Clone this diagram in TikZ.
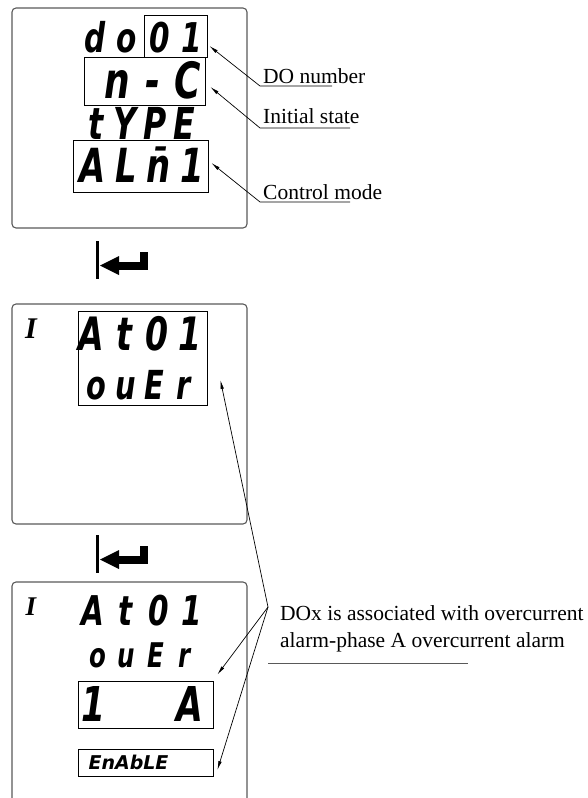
\documentclass[tikz,border=0pt]{standalone}
\usepackage{fontspec}
\setmainfont{Liberation Serif}
\newfontfamily\segfont{DejaVu Sans}
\usetikzlibrary{arrows.meta}

% one character cell of the display
\newcommand\cell[2][32pt]{\makebox[#1]{\scalebox{0.72}[1]{#2}}}

\tikzset{
  panel/.style={draw=black!65, line width=1.1pt, rounded corners=4pt},
  lcdbox/.style={draw, line width=0.8pt, inner sep=0pt},
  segtext/.style={font=\segfont\bfseries\itshape\fontsize{#1}{#1}\selectfont, inner sep=0pt, anchor=base},
  unitmark/.style={font=\bfseries\itshape\fontsize{#1}{#1}\selectfont, inner sep=0pt, anchor=base},
  lbl/.style={font=\fontsize{21.5}{27}\selectfont, inner sep=0pt, anchor=base west},
  leader/.style={{Latex[length=9pt,width=3.5pt]}-, line width=0.7pt},
  rule/.style={draw=black!65, line width=0.9pt},
}

\begin{document}
\begin{tikzpicture}[x=1pt,y=-1pt]
    \useasboundingbox (0,0) rectangle (587,798);

    % first screen
    \draw[panel] (12,8) rectangle (247,228);
    \node[segtext=41] (dotxt) at (111,52) {\cell{d}\cell{o}};
    \node[lcdbox, minimum width=63pt, minimum height=42pt] (nobox) at (175.5,36) {};
    \node[segtext=41] (notxt) at (176,52) {\cell{0}\cell{1}};
    \node[lcdbox, minimum width=121pt, minimum height=48pt] (statebox) at (144.5,81) {};
    \node[segtext=50] (statetxt) at (152.5,98) {\cell[35.5pt]{n}\cell[35.5pt]{-}\cell[35.5pt]{C}};
    \node[segtext=44] (typetxt) at (140,139) {\cell[29.5pt]{t}\cell[29.5pt]{Y}\cell[29.5pt]{P}\cell[29.5pt]{E}};
    \node[lcdbox, minimum width=135pt, minimum height=52pt] (modebox) at (140.5,166) {};
    \node[segtext=47] (modetxt) at (142.5,182) {\cell[33pt]{A}\cell[33pt]{L}\cell[33pt]{n̄}\cell[33pt]{1}};

    % labels of the first screen
    \node[lbl] (nolbl) at (263,83) {DO number};
    \node[lbl] (statelbl) at (263,123) {Initial state};
    \node[lbl] (modelbl) at (263,199) {Control mode};
    \draw[leader] ([shift={(2,10)}]nobox.east) -- ([shift={(-3,3)}]nolbl.base west) -- +(72,0);
    \draw[leader] ([shift={(5,6)}]statebox.east) -- ([shift={(-3,5)}]statelbl.base west) -- +(90,0);
    \draw[leader] ([shift={(3,-3)}]modebox.east) -- ([shift={(-3,3)}]modelbl.base west) -- +(90,0);

    % enter keys
    \foreach \dy in {0,294} {
        \draw[line width=3pt] (97.5,241+\dy) -- (97.5,279+\dy);
        \draw[line width=8pt] (144,252+\dy) -- (144,266+\dy) -- (117,266+\dy);
        \fill (100,265.5+\dy) -- (119,256+\dy) -- (119,275+\dy) -- cycle;
    }

    % second screen
    \draw[panel] (12,304) rectangle (247,524);
    \node[unitmark=30] (unit2) at (31,338) {I};
    \node[lcdbox, minimum width=129pt, minimum height=94pt] (atbox) at (142.5,358) {};
    \node[segtext=46] (attxt2) at (141,350) {\cell[33pt]{A}\cell[33pt]{t}\cell[33pt]{0}\cell[33pt]{1}};
    \node[segtext=40] (ovtxt2) at (140,399) {\cell[29pt]{o}\cell[29pt]{u}\cell[29pt]{E}\cell[29pt]{r}};

    % third screen
    \draw[panel] (12,810) |- (247,582) -- (247,810);
    \node[unitmark=27] (unit3) at (31,615) {I};
    \node[segtext=41] (attxt3) at (142,625) {\cell[33pt]{A}\cell[33pt]{t}\cell[33pt]{0}\cell[33pt]{1}};
    \node[segtext=34] (ovtxt3) at (141,667) {\cell[29pt]{o}\cell[29pt]{u}\cell[29pt]{E}\cell[29pt]{r}};
    \node[lcdbox, minimum width=135pt, minimum height=47pt] (phasebox) at (145.5,704.5) {};
    \node[segtext=48] (phasetxt) at (141.5,721) {\cell[32.3pt]{1}\cell[32.3pt]{}\cell[32.3pt]{}\cell[32.3pt]{A}};
    \node[lcdbox, minimum width=135pt, minimum height=27pt] (enbox) at (145.5,762.5) {};
    \node[segtext=19] (entxt) at (128.5,769) {EnAbLE};

    % alarm label
    \node[lbl, align=left] (assoclbl) at (280,647) {DOx is associated with overcurrent\\alarm-phase A overcurrent alarm};
    \coordinate (assoc) at (268,607);
    \draw[leader] ([shift={(13,22)}]atbox.east) -- (assoc);
    \draw[leader] ([shift={(4,-6)}]phasebox.north east) -- (assoc);
    \draw[leader] ([shift={(4,7.5)}]enbox.east) -- (assoc);
    \draw[rule] ([shift={(0,56)}]assoc) -- +(200,0);
\end{tikzpicture}
\end{document}
